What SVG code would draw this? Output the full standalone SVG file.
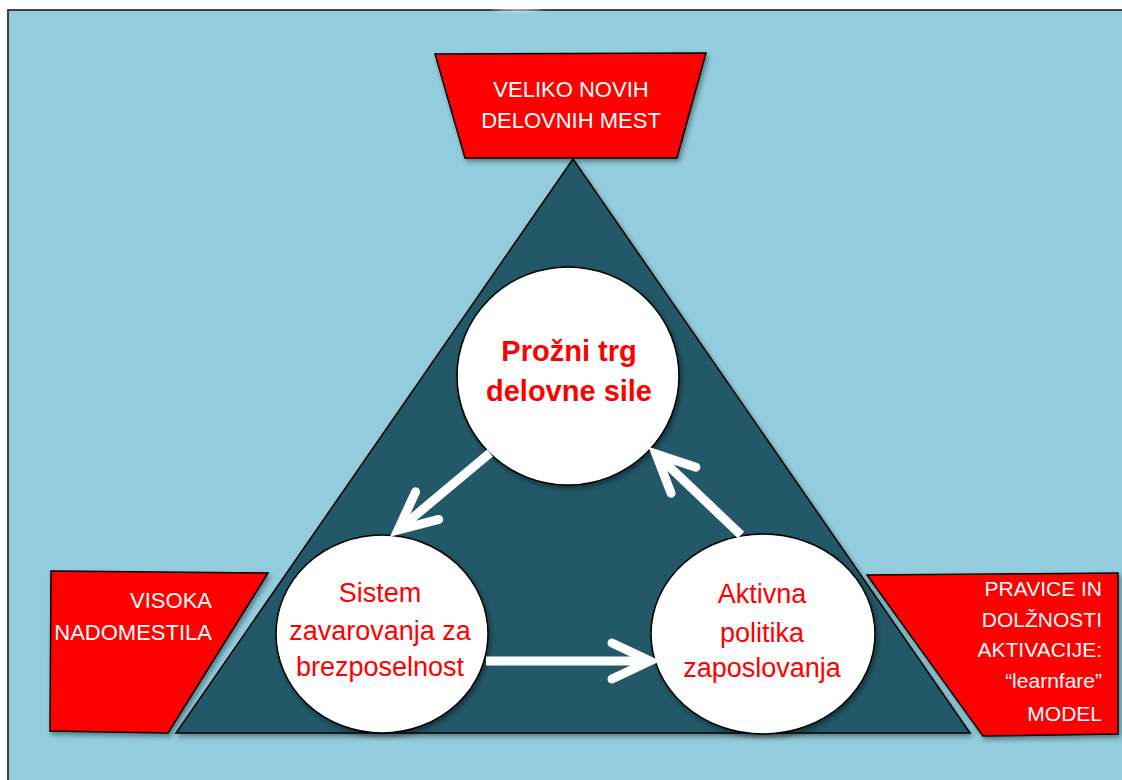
<svg xmlns="http://www.w3.org/2000/svg" width="1122" height="780" viewBox="0 0 1122 780">
  <defs>
    <style>
      .panel { fill: #93CDDD; stroke: #3F3F3F; stroke-width: 2; }
      .tri { fill: #215968; stroke: #000; stroke-width: 1.5; stroke-linejoin: miter; }
      .tag { fill: #FF0000; stroke: #000; stroke-width: 1.5; stroke-linejoin: miter; }
      .disc { fill: #FFFFFF; stroke: #000; stroke-width: 1.5; }
      .tagText { font-family: "Liberation Sans", Arial, sans-serif; font-size: 22px; fill: #FFFFFF; }
      .tagTextSm { font-family: "Liberation Sans", Arial, sans-serif; font-size: 21px; fill: #FFFFFF; }
      .discText { font-family: "Liberation Sans", Arial, sans-serif; font-size: 27px; fill: #FF0000; text-anchor: middle; }
      .discTextBold { font-family: "Liberation Sans", Arial, sans-serif; font-size: 29px; font-weight: bold; fill: #FF0000; text-anchor: middle; }
      .flow { stroke: #FFFFFF; stroke-width: 9; fill: none; stroke-linecap: butt; }
    </style>
    <filter id="shadow" x="-10%" y="-10%" width="130%" height="130%">
      <feDropShadow dx="2" dy="3" stdDeviation="2.5" flood-color="#000" flood-opacity="0.4"/>
    </filter>
    <filter id="soft" x="-50%" y="-50%" width="200%" height="200%">
      <feGaussianBlur stdDeviation="2"/>
    </filter>
    <marker id="chevron" markerUnits="userSpaceOnUse" viewBox="-50 -30 60 60" markerWidth="60" markerHeight="60" refX="0" refY="0" orient="auto" overflow="visible">
      <path d="M-38,-18 L0,0 L-38,18" fill="none" stroke="#FFFFFF" stroke-width="9" stroke-linecap="round" stroke-linejoin="miter"/>
    </marker>
  </defs>

  <!-- backdrop panel -->
  <rect class="panel" x="8" y="10" width="1130" height="790"/>
  <ellipse cx="518" cy="5" rx="28" ry="6" fill="#FFFFFF" filter="url(#soft)" opacity="0.7"/>

  <!-- base triangle -->
  <g id="triangle">
    <polygon class="tri" points="573,159 176,733 970,733" filter="url(#shadow)"/>
  </g>

  <!-- outer tags -->
  <g id="tag-top">
    <polygon class="tag" points="435,54 706,53 677,158 465,158" filter="url(#shadow)"/>
    <text class="tagText" x="571" y="97" text-anchor="middle">VELIKO NOVIH</text>
    <text class="tagText" x="571" y="128" text-anchor="middle">DELOVNIH MEST</text>
  </g>

  <g id="tag-left">
    <polygon class="tag" points="51,571 268,573 168,733 50,731" filter="url(#shadow)"/>
    <text class="tagText" x="212" y="608" text-anchor="end">VISOKA</text>
    <text class="tagText" x="212" y="640" text-anchor="end">NADOMESTILA</text>
  </g>

  <g id="tag-right">
    <polygon class="tag" points="867,575 1118,573 1118,734 983,736" filter="url(#shadow)"/>
    <text class="tagTextSm" x="1102" y="596" text-anchor="end">PRAVICE IN</text>
    <text class="tagTextSm" x="1102" y="627" text-anchor="end">DOLŽNOSTI</text>
    <text class="tagTextSm" x="1102" y="657" text-anchor="end">AKTIVACIJE:</text>
    <text class="tagTextSm" x="1102" y="688" text-anchor="end">“learnfare”</text>
    <text class="tagTextSm" x="1102" y="721" text-anchor="end">MODEL</text>
  </g>

  <!-- circular nodes -->
  <g id="node-trg">
    <ellipse class="disc" cx="568" cy="376" rx="111" ry="109" filter="url(#shadow)"/>
    <text class="discTextBold" x="569" y="361">Prožni trg</text>
    <text class="discTextBold" x="569" y="401">delovne sile</text>
  </g>

  <g id="node-sistem">
    <ellipse class="disc" cx="382" cy="634" rx="106" ry="99" filter="url(#shadow)"/>
    <text class="discText" x="380" y="602">Sistem</text>
    <text class="discText" x="380" y="640">zavarovanja za</text>
    <text class="discText" x="380" y="676">brezposelnost</text>
  </g>

  <g id="node-aktivna">
    <ellipse class="disc" cx="763" cy="634" rx="112" ry="100" filter="url(#shadow)"/>
    <text class="discText" x="762" y="603">Aktivna</text>
    <text class="discText" x="762" y="642">politika</text>
    <text class="discText" x="762" y="677">zaposlovanja</text>
  </g>

  <!-- cycle connectors -->
  <g id="connectors">
    <line class="flow" x1="490" y1="453" x2="398" y2="530" marker-end="url(#chevron)"/>
    <line class="flow" x1="486" y1="661" x2="650" y2="661" marker-end="url(#chevron)"/>
    <line class="flow" x1="741" y1="535" x2="656" y2="454" marker-end="url(#chevron)"/>
  </g>
</svg>
